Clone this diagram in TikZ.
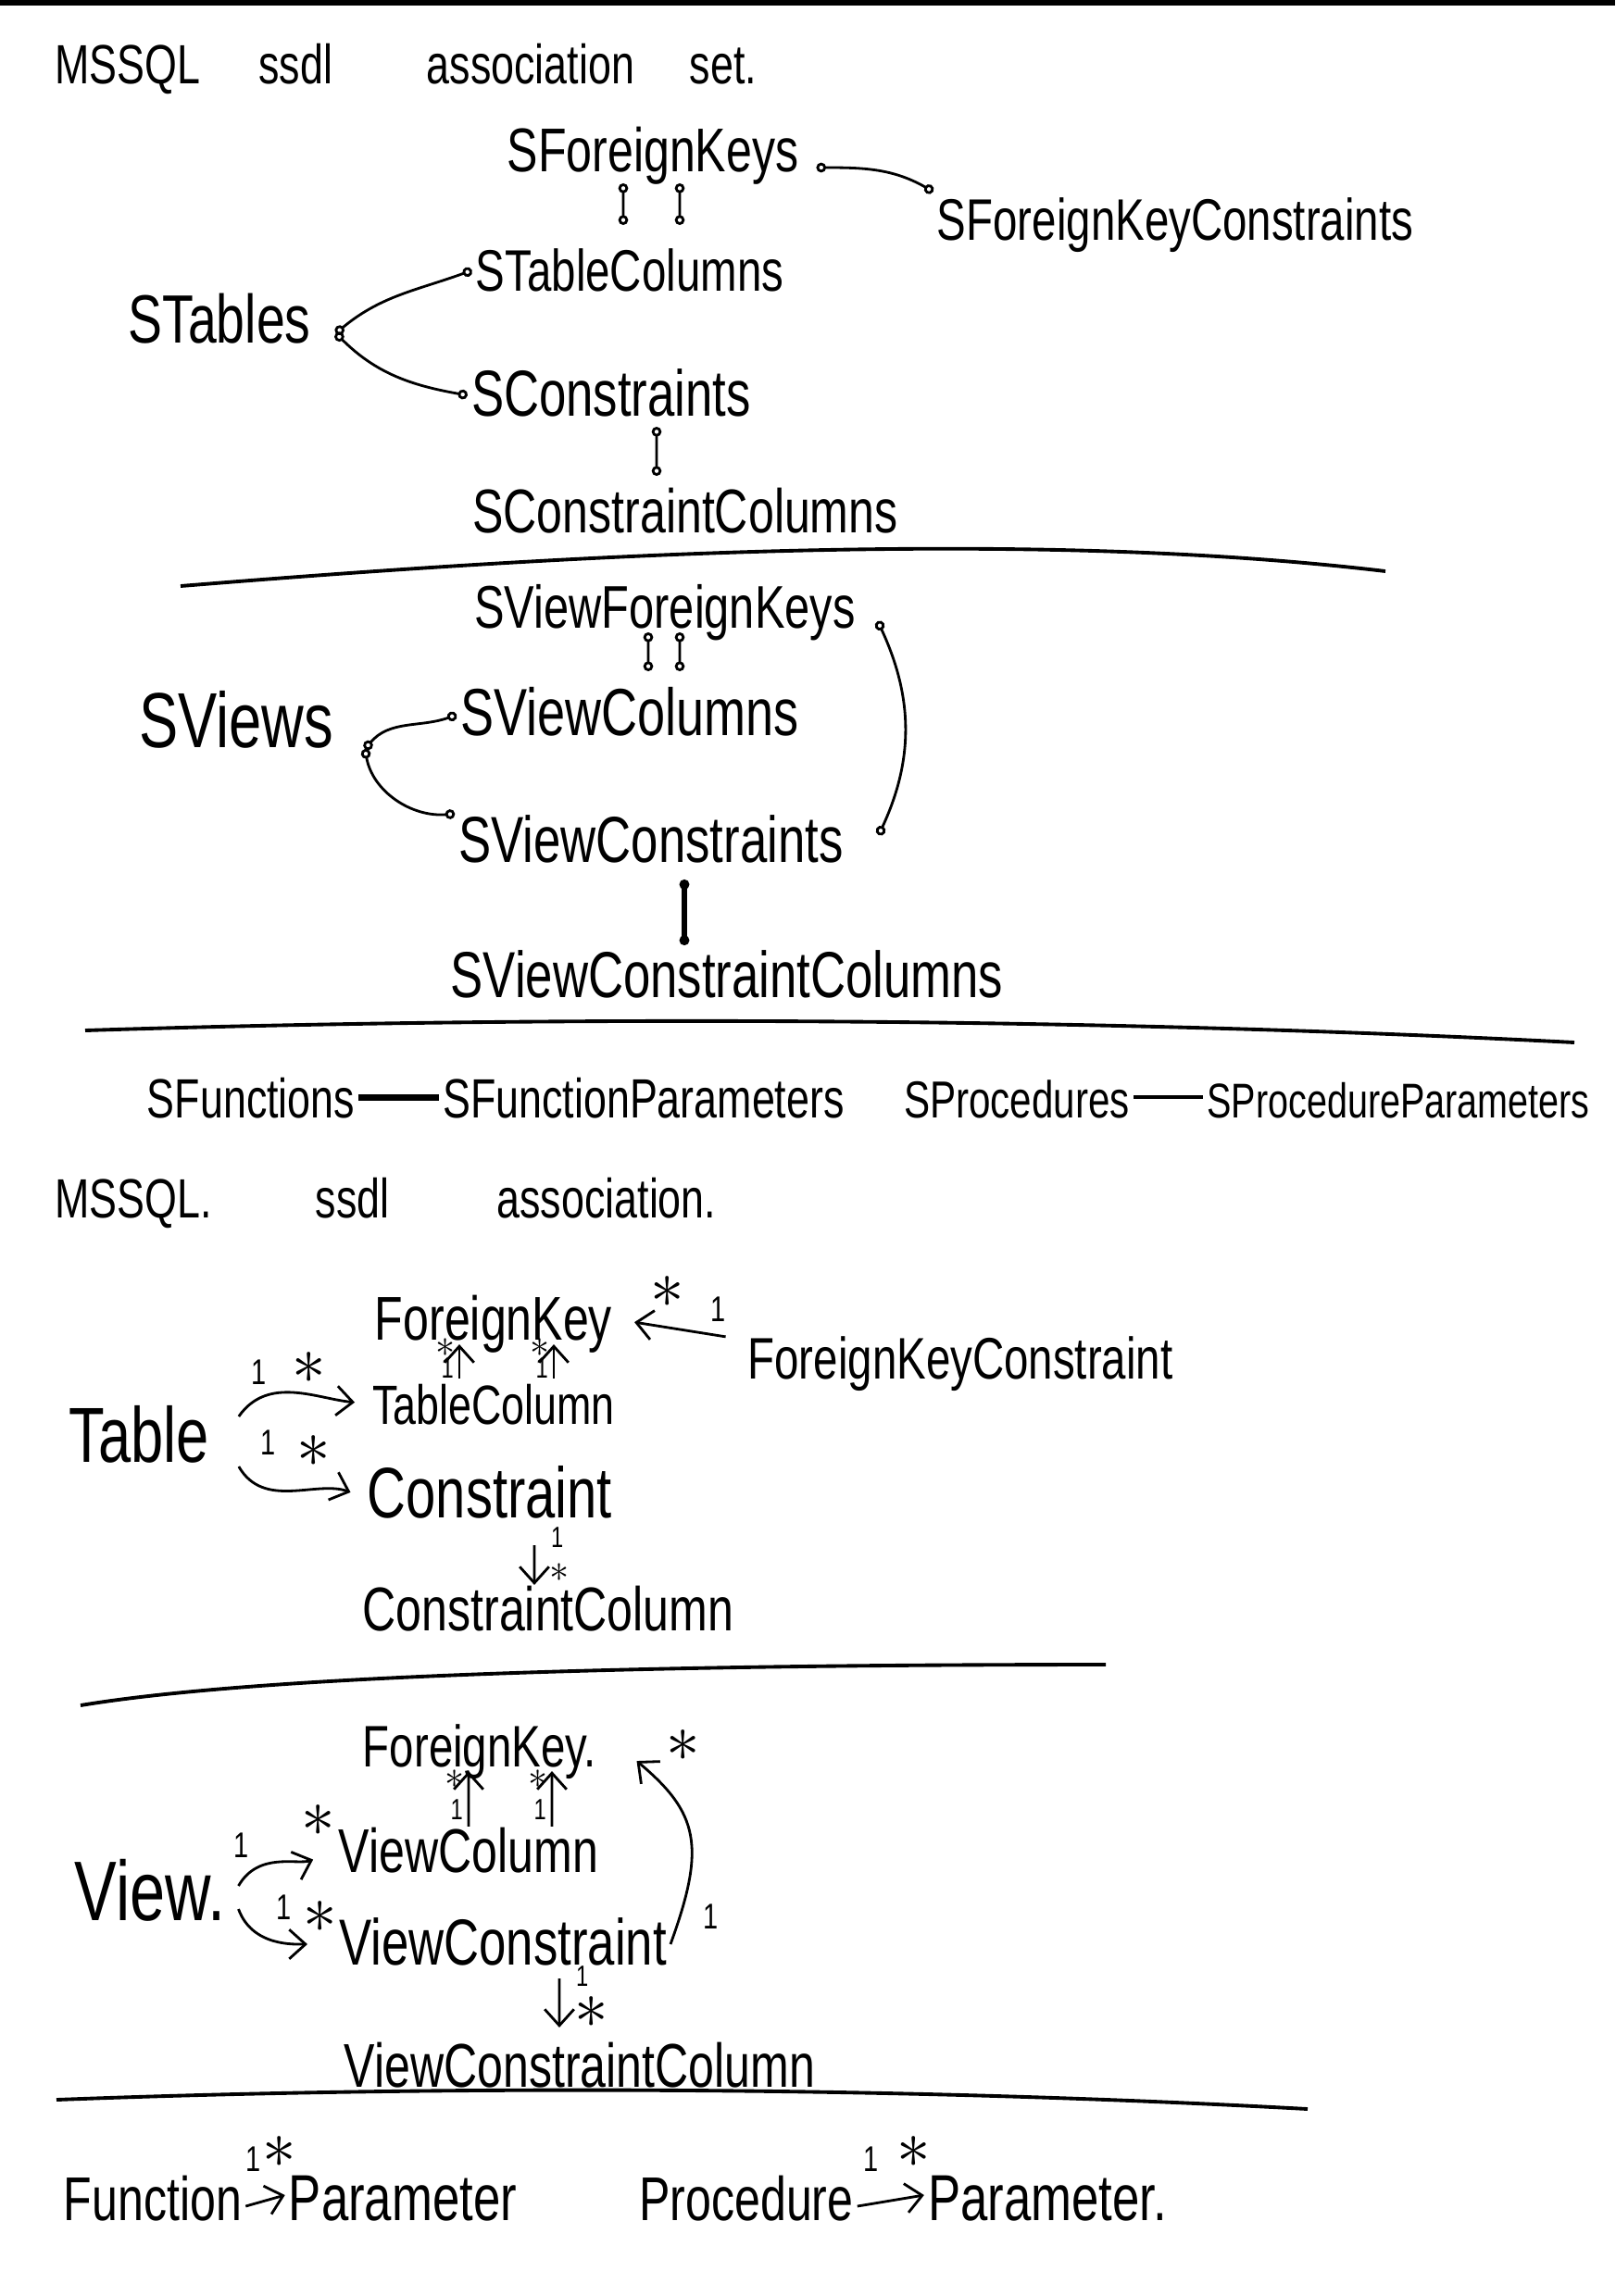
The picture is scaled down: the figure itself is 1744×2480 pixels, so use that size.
\documentclass[tikz,border=0pt]{standalone}
\usepackage{fontspec}
\setmainfont{Liberation Sans}[FakeStretch=0.75]
\usetikzlibrary{arrows.meta,positioning}
\begin{document}
\begin{tikzpicture}[x=0.1mm,y=-0.1mm,
  lbl/.style={inner sep=1pt,text height=13pt,text depth=0pt,font=\fontsize{#1}{#1}\selectfont},
  one/.style={inner sep=1pt,font=\fontsize{11}{11}\selectfont},
  tinyone/.style={inner sep=0.5pt,font=\fontsize{9}{9}\selectfont},
  star/.style={inner sep=0pt,font=\fontsize{20}{20}\selectfont},
  tinystar/.style={inner sep=0pt,font=\fontsize{13}{13}\selectfont},
  setlink/.style={{Circle[open,length=3pt]}-{Circle[open,length=3pt]},line width=0.8pt},
  assoc/.style={-{Straight Barb[length=5pt,width=9pt]},line width=0.8pt},
  plainlink/.style={line width=#1},
  rule/.style={line width=1.1pt}]
\useasboundingbox (0,0) rectangle (1744,2480);
\fill (0,0) rectangle (1744,6);
\node[anchor=west,lbl=17] (title1) at (55,68) {MSSQL\hspace{18pt}ssdl\hspace{29pt}association\hspace{17pt}set.};
\node[lbl=19] (fks) at (705,163) {SForeignKeys};
\node[lbl=18] (fkc) at (1269,237) {SForeignKeyConstraints};
\node[lbl=18] (tcols) at (680,292) {STableColumns};
\node[lbl=21] (tables) at (237,348) {STables};
\node[lbl=20] (cons) at (660,427) {SConstraints};
\node[lbl=19] (ccols) at (740,553) {SConstraintColumns};
\coordinate (tjoin) at ([xshift=2.3mm,yshift=-1.2mm]tables.east);
\draw[setlink] (tjoin) to[out=40,in=200] (tcols.west);
\draw[setlink] (tjoin) to[out=-45,in=170] (cons.west);
\draw[setlink] ([xshift=1.5mm,yshift=-1.8mm]fks.east) to[out=0,in=150] ([yshift=3mm]fkc.west);
\draw[setlink,shorten <=0.8mm,shorten >=2.2mm] ([xshift=-3.2mm]fks.south) -- ([xshift=-0.7mm]tcols.north);
\draw[setlink,shorten <=0.8mm,shorten >=2.2mm] ([xshift=2.9mm]fks.south) -- ([xshift=5.4mm]tcols.north);
\draw[setlink,shorten <=0.7mm,shorten >=1.2mm] ([xshift=4.9mm]cons.south) -- ([xshift=-3.1mm]ccols.north);
\draw[rule] (195,633) .. controls (600,600) and (1100,570) .. (1496,617);
\node[lbl=18.5] (vfks) at (718,656) {SViewForeignKeys};
\node[lbl=24] (views) at (255,785) {SViews};
\node[lbl=20.5] (vcols) at (680,772) {SViewColumns};
\node[lbl=20] (vcons) at (703,909) {SViewConstraints};
\node[lbl=20] (vccols) at (785,1055) {SViewConstraintColumns};
\coordinate (vjoin) at ([xshift=3mm,yshift=-2.4mm]views.east);
\draw[setlink] (vjoin) to[out=50,in=200] (vcols.west);
\draw[setlink] (vjoin) to[out=-80,in=185] ([yshift=3mm]vcons.west);
\draw[setlink] ([xshift=2mm,yshift=-1.5mm]vfks.east) to[out=-65,in=65] ([xshift=3.4mm,yshift=0.7mm]vcons.east);
\draw[setlink,shorten >=2mm] ([xshift=-1.8mm]vfks.south) -- ([xshift=2mm]vcols.north);
\draw[setlink,shorten >=2mm] ([xshift=1.6mm]vfks.south) -- ([xshift=5.4mm]vcols.north);
\draw[setlink,line width=1.6pt,shorten <=1.4mm,shorten >=0.7mm] ([xshift=3.6mm]vcons.south) -- ([xshift=-4.6mm]vccols.north);
\draw[rule] (92,1113) .. controls (500,1100) and (1100,1095) .. (1700,1126);
\node[lbl=17] (funcs) at (271,1185) {SFunctions};
\node[lbl=17] (fparams) at (695,1185) {SFunctionParameters};
\node[lbl=16] (procs) at (1098,1185) {SProcedures};
\node[lbl=15] (pparams) at (1510,1185) {SProcedureParameters};
\draw[plainlink=2pt] (funcs) -- (fparams);
\draw[plainlink=1pt] (procs) -- (pparams);
\node[anchor=west,lbl=17] (title2) at (55,1293) {MSSQL.\hspace{32pt}ssdl\hspace{33pt}association.};
\node[lbl=19] (fk) at (533,1425) {ForeignKey};
\node[lbl=18] (fkcon) at (1037,1467) {ForeignKeyConstraint};
\node[lbl=17] (tcol) at (533,1516) {TableColumn};
\node[lbl=24] (table) at (150,1557) {Table};
\node[lbl=22] (con) at (529,1617) {Constraint};
\node[lbl=19] (ccol) at (592,1739) {ConstraintColumn};
\draw[assoc,shorten <=2mm,shorten >=2mm] ([yshift=2mm]fkcon.west) -- node[one,pos=0.2,above=1mm]{1} node[star,pos=0.6,above=2mm]{$\ast$} (fk.east);
\draw[assoc] ([xshift=-3.7mm]tcol.north) -- node[tinyone,pos=0.3,left=0.3mm]{1} node[tinystar,pos=0.9,left=0.3mm]{$\ast$} ([xshift=-3.7mm]fk.south);
\draw[assoc] ([xshift=6.5mm]tcol.north) -- node[tinyone,pos=0.3,left=0.3mm]{1} node[tinystar,pos=0.9,left=0.3mm]{$\ast$} ([xshift=6.5mm]fk.south);
\draw[assoc,shorten >=1.5mm] ([xshift=2.8mm]table.north east) to[out=55,in=175] node[one,pos=0.2,above=1mm]{1} node[star,pos=0.6,above=1mm]{$\ast$} (tcol.west);
\draw[assoc,shorten >=1.5mm] ([xshift=2.8mm]table.south east) to[out=-60,in=160] node[one,pos=0.1,above right=2mm and 1mm]{1} node[star,pos=0.45,above right=2.5mm and 1mm]{$\ast$} (con.west);
\draw[assoc,shorten <=2.5mm] ([xshift=4.8mm]con.south) -- node[tinyone,pos=0.25,right=1.5mm]{1} node[tinystar,pos=0.8,right=1.5mm]{$\ast$} ([xshift=-1.5mm]ccol.north);
\draw[rule] (87,1842) .. controls (250,1815) and (600,1798) .. (1194,1798);
\node[lbl=18] (vfk) at (518,1886) {ForeignKey.};
\node[lbl=26] (view) at (162,2052) {View.};
\node[lbl=19] (vcol) at (506,2000) {ViewColumn};
\node[lbl=20] (vcon) at (543,2100) {ViewConstraint};
\node[lbl=19] (vccol) at (626,2232) {ViewConstraintColumn};
\draw[assoc] (vcol.north) -- node[tinyone,pos=0.3,left=0.3mm]{1} node[tinystar,pos=0.85,left=0.3mm]{$\ast$} ([xshift=-1.2mm]vfk.south);
\draw[assoc] ([xshift=9mm]vcol.north) -- node[tinyone,pos=0.3,left=0.3mm]{1} node[tinystar,pos=0.85,left=0.3mm]{$\ast$} ([xshift=7.8mm]vfk.south);
\draw[assoc,shorten >=2.5mm] ([xshift=1mm,yshift=1.5mm]view.east) to[out=60,in=200] node[one,pos=0.05,above=2mm]{1} node[star,pos=0.85,above=2mm]{$\ast$} (vcol.west);
\draw[assoc,shorten >=3mm] ([xshift=1mm,yshift=-1mm]view.east) to[out=-70,in=180] node[one,pos=0.3,above right=1mm and 1.5mm]{1} node[star,pos=0.6,above right=1mm and 1.5mm]{$\ast$} (vcon.west);
\draw[assoc,shorten >=2.5mm,looseness=1.3] (vcon.east) to[out=70,in=-40] node[one,pos=0.1,right=2mm]{1} node[star,pos=1,right=5mm]{$\ast$} ([xshift=2mm]vfk.east);
\draw[assoc,shorten <=1mm,shorten >=1.5mm] ([xshift=6.1mm]vcon.south) -- node[tinyone,pos=0.1,right=1.5mm]{1} node[star,pos=0.6,right=1.5mm]{$\ast$} ([xshift=-2.2mm]vccol.north);
\draw[rule] (61,2268) .. controls (400,2255) and (900,2250) .. (1412,2278);
\node[lbl=19] (func) at (165,2376) {Function};
\node[lbl=20] (fparam) at (435,2376) {Parameter};
\node[lbl=19] (proc) at (806,2376) {Procedure};
\node[lbl=20] (pparam) at (1131,2376) {Parameter.};
\draw[assoc] ([yshift=-0.7mm]func.east) -- node[one,pos=0.2,above=3mm]{1} node[star,pos=0.85,above=3mm]{$\ast$} ([yshift=0.5mm]fparam.west);
\draw[assoc] ([yshift=-0.7mm]proc.east) -- node[one,pos=0.2,above=3mm]{1} node[star,pos=0.85,above=3mm]{$\ast$} ([yshift=0.5mm]pparam.west);
\end{tikzpicture}
\end{document}
